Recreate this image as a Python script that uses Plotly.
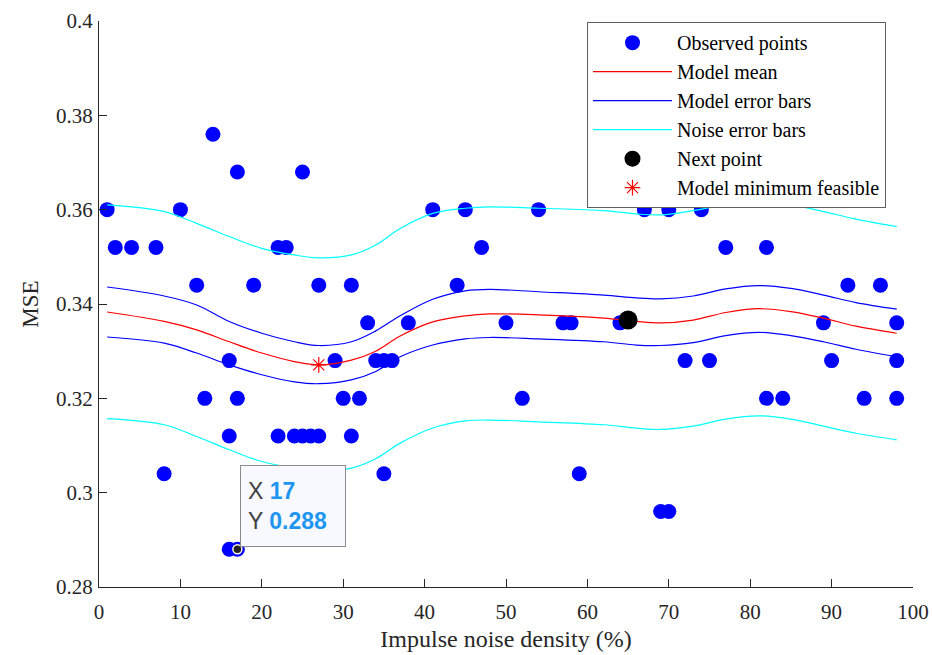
import plotly.graph_objects as go

# Observed points
obs_x = [1, 2, 4, 7, 8, 10, 12, 13, 14, 16, 16, 16, 17, 17, 17, 19, 22, 22, 23, 24,
         25, 25, 26, 27, 27, 29, 30, 31, 31, 32, 33, 34, 35, 35, 36, 38, 41, 44, 45, 47,
         50, 52, 54, 57, 58, 59, 64, 67, 69, 70, 70, 72, 74, 75, 77, 82, 82, 84, 89, 90,
         92, 94, 96, 98, 98, 98]
obs_y = [0.360, 0.352, 0.352, 0.352, 0.304, 0.360, 0.344, 0.320, 0.376, 0.328, 0.312, 0.288,
         0.368, 0.320, 0.288, 0.344, 0.352, 0.312, 0.352, 0.312, 0.368, 0.312, 0.312, 0.344,
         0.312, 0.328, 0.320, 0.344, 0.312, 0.320, 0.336, 0.328, 0.328, 0.304, 0.328, 0.336,
         0.360, 0.344, 0.360, 0.352, 0.336, 0.320, 0.360, 0.336, 0.336, 0.304, 0.336, 0.360,
         0.296, 0.360, 0.296, 0.328, 0.360, 0.328, 0.352, 0.352, 0.320, 0.320, 0.336, 0.328,
         0.344, 0.320, 0.344, 0.336, 0.328, 0.320]

# Model curves (read at knots)
curve_x = [1, 8, 12, 16, 20, 24, 27, 31, 34, 37, 41, 45, 48, 54, 62, 66, 69, 73, 77, 81, 85, 89, 93, 98]
mean_y = [0.3383, 0.3363, 0.3345, 0.3320, 0.3296, 0.3278, 0.3271, 0.3281, 0.3300, 0.3332, 0.3362,
          0.3375, 0.3379, 0.3377, 0.3370, 0.3363, 0.3360, 0.3366, 0.3382, 0.3390, 0.3384, 0.3370,
          0.3353, 0.3338]
model_hi = [0.3436, 0.3417, 0.3398, 0.3363, 0.3338, 0.3320, 0.3312, 0.3320, 0.3343, 0.3375, 0.3410,
            0.3428, 0.3431, 0.3426, 0.3419, 0.3413, 0.3411, 0.3417, 0.3432, 0.3439, 0.3433, 0.3419,
            0.3403, 0.3389]
model_lo = [0.3330, 0.3317, 0.3296, 0.3271, 0.3250, 0.3235, 0.3231, 0.3239, 0.3257, 0.3288, 0.3313,
            0.3326, 0.3329, 0.3326, 0.3320, 0.3313, 0.3312, 0.3318, 0.3333, 0.3340, 0.3333, 0.3320,
            0.3304, 0.3288]
noise_hi = [0.3610, 0.3596, 0.3571, 0.3543, 0.3518, 0.3504, 0.3498, 0.3504, 0.3525, 0.3560, 0.3592,
            0.3603, 0.3606, 0.3603, 0.3598, 0.3591, 0.3589, 0.3598, 0.3611, 0.3616, 0.3610, 0.3596,
            0.3580, 0.3564]
noise_lo = [0.3157, 0.3144, 0.3119, 0.3091, 0.3066, 0.3052, 0.3045, 0.3052, 0.3072, 0.3105, 0.3137,
            0.3152, 0.3154, 0.3150, 0.3144, 0.3137, 0.3134, 0.3141, 0.3156, 0.3163, 0.3156, 0.3141,
            0.3126, 0.3112]

next_x = [65]
next_y = [0.3366]
min_x = [27]
min_y = [0.3271]
tip_x = 17
tip_y = 0.288

x_ticks = [0, 10, 20, 30, 40, 50, 60, 70, 80, 90, 100]
y_ticks = [0.28, 0.30, 0.32, 0.34, 0.36, 0.38, 0.40]
y_tick_text = ["0.28", "0.3", "0.32", "0.34", "0.36", "0.38", "0.4"]

SERIF = "Liberation Serif"

fig = go.Figure()
fig.add_trace(go.Scatter(x=obs_x, y=obs_y, mode="markers", name="Observed points",
                         marker=dict(color="#0000FF", size=15, line=dict(width=0))))
fig.add_trace(go.Scatter(x=curve_x, y=mean_y, mode="lines", name="Model mean",
                         line=dict(color="#FF0000", width=1.2, shape="spline")))
fig.add_trace(go.Scatter(x=curve_x, y=model_hi, mode="lines", name="Model error bars",
                         legendgroup="me", line=dict(color="#0000FF", width=1.2, shape="spline")))
fig.add_trace(go.Scatter(x=curve_x, y=model_lo, mode="lines", name="Model error bars",
                         legendgroup="me", showlegend=False,
                         line=dict(color="#0000FF", width=1.2, shape="spline")))
fig.add_trace(go.Scatter(x=curve_x, y=noise_hi, mode="lines", name="Noise error bars",
                         legendgroup="ne", line=dict(color="#00FFFF", width=1.2, shape="spline")))
fig.add_trace(go.Scatter(x=curve_x, y=noise_lo, mode="lines", name="Noise error bars",
                         legendgroup="ne", showlegend=False,
                         line=dict(color="#00FFFF", width=1.2, shape="spline")))
fig.add_trace(go.Scatter(x=next_x, y=next_y, mode="markers", name="Next point",
                         marker=dict(color="#000000", size=19)))
fig.add_trace(go.Scatter(x=min_x, y=min_y, mode="markers", name="Model minimum feasible",
                         marker=dict(symbol="asterisk-open", color="#FF0000", size=13,
                                     line=dict(color="#FF0000", width=1.2))))
fig.add_trace(go.Scatter(x=[tip_x], y=[tip_y], mode="markers", showlegend=False,
                         marker=dict(color="#222222", size=9, line=dict(color="#FFF8DC", width=1.5))))

fig.add_annotation(x=tip_x, y=tip_y, xref="x", yref="y", showarrow=False,
                   xanchor="left", yanchor="bottom", xshift=3, yshift=2,
                   text=("<span style='color:#404040'>X </span>"
                         "<b><span style='color:#1E96F0'>17</span></b><br>"
                         "<span style='color:#404040'>Y </span>"
                         "<b><span style='color:#1E96F0'>0.288</span></b>"),
                   align="left", width=90, height=66, borderpad=7,
                   bgcolor="#F8F9FF", bordercolor="#8C8C8C", borderwidth=1,
                   font=dict(family="Liberation Sans", size=23))

axis_common = dict(showline=True, linecolor="#262626", linewidth=1, ticks="inside",
                   ticklen=8, tickcolor="#262626", tickwidth=1, showgrid=False,
                   zeroline=False, mirror=False, automargin=False,
                   tickfont=dict(family=SERIF, size=21, color="#262626"))

fig.update_layout(
    width=932, height=655,
    margin=dict(l=99, r=19, t=21, b=68),
    paper_bgcolor="white", plot_bgcolor="white",
    font=dict(family=SERIF, color="#262626"),
    xaxis=dict(range=[0, 100], tickvals=x_ticks, ticklabelstandoff=6,
               title=dict(text="Impulse noise density (%)", font=dict(family=SERIF, size=24), standoff=6),
               **axis_common),
    yaxis=dict(range=[0.28, 0.40], tickvals=y_ticks, ticktext=y_tick_text, ticklabelstandoff=1,
               title=dict(text="MSE", font=dict(family=SERIF, size=23), standoff=10),
               **axis_common),
    legend=dict(x=0.5995, y=0.998, xanchor="left", yanchor="top",
                bgcolor="white", bordercolor="#606060", borderwidth=1,
                font=dict(family=SERIF, size=20, color="#000000"), itemwidth=79,
                tracegroupgap=0),
    showlegend=True,
)

fig.write_html("out.html", config={"displayModeBar": False},
               post_script="document.body.style.margin='0';document.body.style.overflow='hidden';")
